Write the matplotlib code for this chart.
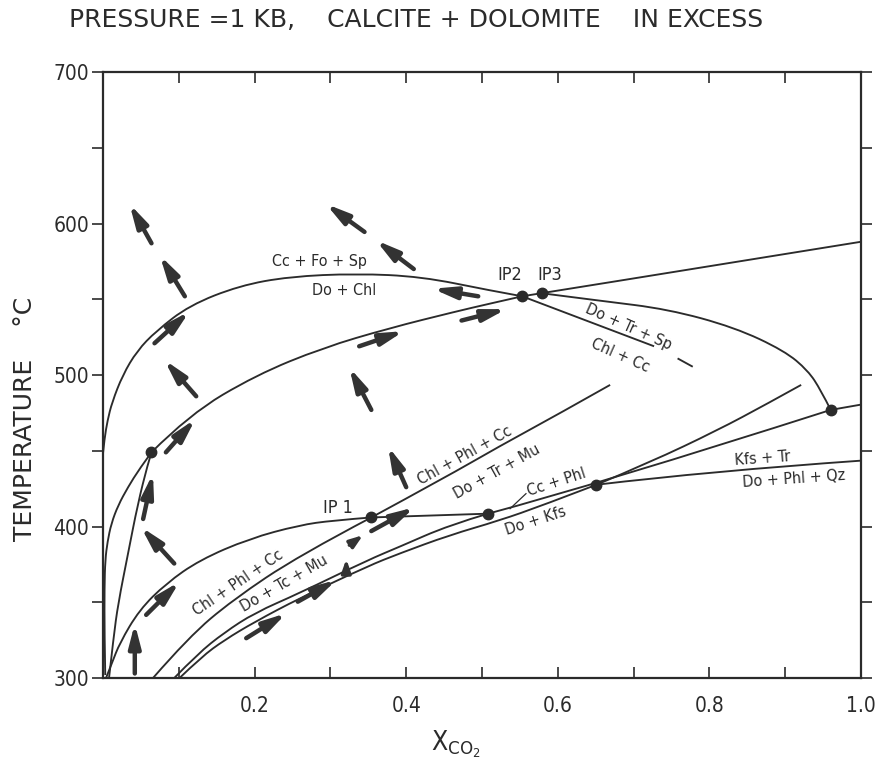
import matplotlib
matplotlib.use('Agg')
import matplotlib.pyplot as plt
from matplotlib.path import Path
from matplotlib.patches import PathPatch
import numpy as np

plt.rcParams['font.family'] = ['DejaVu Sans']
plt.rcParams['font.stretch'] = 'condensed'
plt.rcParams['mathtext.fontset'] = 'dejavusans'

ink = '#2b2b2b'

# ---- reaction curves (X_CO2, T in deg C) ----
# Cc+Fo+Sp = Do+Chl
curveA_x = [0.0, 0.002, 0.006, 0.012, 0.026, 0.045, 0.07, 0.114, 0.18, 0.246, 0.334, 0.42, 0.509, 0.553]
curveA_t = [448, 458, 470, 482, 500, 516, 529, 546, 559, 565, 567, 565, 556, 552]
# Do+Tr+Sp = Chl+Cc (from IP2)
trsp_x = [0.553, 0.727]
trsp_t = [552, 519]
trsp_dash_x = [0.758, 0.778]
trsp_dash_t = [511, 505.5]
# lower big curve: left axis -> invariant point -> IP2 -> IP3 -> right axis
curveB_low_x = [0.003, 0.002, 0.002, 0.003, 0.006, 0.011, 0.02, 0.033, 0.048, 0.064]
curveB_low_t = [302, 330, 360, 378, 390, 402, 414, 426, 438, 449]
curveB_mid_x = [0.064, 0.114, 0.202, 0.29, 0.378, 0.466, 0.509, 0.553]
curveB_mid_t = [449, 474, 500, 518, 531, 542, 547, 552]
curveB_right_x = [0.553, 0.579, 1.0]
curveB_right_t = [552, 554, 588]
# curve from IP3 down to the right-hand point
curveC_x = [0.579, 0.657, 0.745, 0.833, 0.899, 0.93, 0.947, 0.96]
curveC_t = [554, 549, 543.5, 531.5, 516, 503, 490, 477]
stub_x = [0.96, 1.0]
stub_t = [477, 480.5]
# steep curve to the invariant point
steep_x = [0.008, 0.014, 0.02, 0.033, 0.046, 0.059, 0.064]
steep_t = [300, 327, 349, 382, 415, 441, 449]
# upper curve into IP1, then IP1 to the next point
ip1_x = [0.004, 0.012, 0.022, 0.048, 0.0835, 0.1275, 0.193, 0.259, 0.303, 0.354]
ip1_t = [300, 310, 323, 345, 362.5, 377.9, 392, 400.9, 404, 406]
ip1_flat_x = [0.354, 0.508]
ip1_flat_t = [406, 408.5]
# Chl+Phl+Cc = Do+Tc+Mu -> IP1 ; Chl+Phl+Cc = Do+Tr+Mu beyond
tc_x = [0.066, 0.113, 0.171, 0.259, 0.354]
tc_t = [300, 327, 351.5, 381, 406]
tr_x = [0.354, 0.45, 0.523, 0.6, 0.669]
tr_t = [406, 432, 453, 474, 493.5]
# the close pair of curves
pair1_x = [0.094, 0.125, 0.16, 0.2, 0.259, 0.35, 0.391, 0.457, 0.508]
pair1_t = [300, 316, 330, 343, 356, 378, 386.6, 401, 408.5]
pair1_up_x = [0.508, 0.651, 0.96]
pair1_up_t = [408.5, 427.6, 477]
pair2_x = [0.101, 0.13, 0.16, 0.2, 0.259, 0.35, 0.391, 0.457, 0.523, 0.58, 0.651]
pair2_t = [300, 314, 325, 337, 352.6, 374, 382.2, 394.3, 404, 414, 427.6]
pair2_up_x = [0.651, 0.722, 0.81, 0.876, 0.921]
pair2_up_t = [427.6, 442.5, 463.4, 481, 493.5]
# Kfs+Tr = Do+Phl+Qz
kfs_x = [0.651, 0.8, 1.0]
kfs_t = [427.6, 436.5, 443.5]

# invariant points
pts_x = [0.064, 0.354, 0.508, 0.553, 0.579, 0.651, 0.96]
pts_t = [449, 406, 408.5, 552, 554, 427.6, 477]

# arrows: tail -> head
arr_tail = [(0.064, 587), (0.108, 552), (0.068, 521), (0.123, 486), (0.083, 449),
            (0.41, 570), (0.345, 594.5), (0.495, 552), (0.338, 519), (0.473, 536),
            (0.354, 477), (0.400, 426), (0.053, 405), (0.094, 375.6), (0.057, 341.7),
            (0.042, 303), (0.189, 326.3), (0.257, 350.4), (0.354, 397)]
arr_head = [(0.035, 613), (0.075, 579), (0.114, 542), (0.081, 510), (0.122, 471),
            (0.36, 589), (0.294, 613), (0.435, 557), (0.397, 529), (0.532, 543.5),
            (0.325, 505), (0.376, 453), (0.066, 435), (0.05, 399.8), (0.101, 363.6),
            (0.042, 336), (0.242, 342.8), (0.308, 364.7), (0.411, 412.7)]
small_tail = [(0.321, 371), (0.325, 387.7)]
small_head = [(0.321, 378.5), (0.343, 394.3)]


fig = plt.figure(figsize=(8.77, 7.67), dpi=100)
ax = fig.add_axes([0.1174, 0.116, 0.8644, 0.790])

lw = 1.35


def curve(xs, ts):
    # smooth quadratic path through the read points
    pts = list(zip(xs, ts))
    if len(pts) < 3:
        ax.plot(xs, ts, color=ink, lw=lw, solid_capstyle='butt')
        return
    verts = [pts[0]]
    codes = [Path.MOVETO]
    for i in range(1, len(pts) - 1):
        if i == len(pts) - 2:
            end = pts[i + 1]
        else:
            end = ((pts[i][0] + pts[i + 1][0]) / 2, (pts[i][1] + pts[i + 1][1]) / 2)
        verts += [pts[i], end]
        codes += [Path.CURVE3, Path.CURVE3]
    ax.add_patch(PathPatch(Path(verts, codes), fill=False, edgecolor=ink, lw=lw,
                           capstyle='butt'))


for xs, ts in [(curveA_x, curveA_t), (trsp_x, trsp_t), (trsp_dash_x, trsp_dash_t),
               (curveB_low_x, curveB_low_t), (curveB_mid_x, curveB_mid_t),
               (curveB_right_x, curveB_right_t), (curveC_x, curveC_t), (stub_x, stub_t),
               (steep_x, steep_t), (ip1_x, ip1_t), (ip1_flat_x, ip1_flat_t),
               (tc_x, tc_t), (tr_x, tr_t), (pair1_x, pair1_t), (pair1_up_x, pair1_up_t),
               (pair2_x, pair2_t), (pair2_up_x, pair2_up_t), (kfs_x, kfs_t)]:
    curve(xs, ts)

ax.plot(pts_x, pts_t, 'o', color=ink, ms=7.5)

for (x0, t0), (x1, t1) in zip(arr_tail, arr_head):
    ax.annotate('', xy=(x1, t1), xytext=(x0, t0),
                arrowprops=dict(arrowstyle='-|>,head_length=0.85,head_width=0.22',
                                lw=3.2, color='#333333', shrinkA=0, shrinkB=0,
                                mutation_scale=16))
for (x0, t0), (x1, t1) in zip(small_tail, small_head):
    ax.annotate('', xy=(x1, t1), xytext=(x0, t0),
                arrowprops=dict(arrowstyle='-|>,head_length=0.7,head_width=0.25',
                                lw=2.5, color='#333333', shrinkA=0, shrinkB=0,
                                mutation_scale=11))

# reaction labels
fs = 11.5
ax.text(0.285, 575, 'Cc + Fo + Sp', fontsize=fs, ha='center', va='center', color=ink)
ax.text(0.318, 556, 'Do + Chl', fontsize=fs, ha='center', va='center', color=ink)
ax.text(0.537, 566, 'IP2', fontsize=13, ha='center', va='center', color=ink)
ax.text(0.589, 566, 'IP3', fontsize=13, ha='center', va='center', color=ink)
ax.text(0.693, 532, 'Do + Tr + Sp', fontsize=fs, ha='center', va='center', rotation=-24, color=ink)
ax.text(0.682, 513, 'Chl + Cc', fontsize=fs, ha='center', va='center', rotation=-24, color=ink)
ax.text(0.478, 447, 'Chl + Phl + Cc', fontsize=fs, ha='center', va='center', rotation=29, color=ink)
ax.text(0.52, 436, 'Do + Tr + Mu', fontsize=fs, ha='center', va='center', rotation=29, color=ink)
ax.text(0.31, 412.5, 'IP 1', fontsize=13, ha='center', va='center', color=ink)
ax.text(0.178, 363, 'Chl + Phl + Cc', fontsize=fs, ha='center', va='center', rotation=34, color=ink)
ax.text(0.2385, 362, 'Do + Tc + Mu', fontsize=fs, ha='center', va='center', rotation=30, color=ink)
ax.text(0.598, 429, 'Cc + Phl', fontsize=fs, ha='center', va='center', rotation=18, color=ink)
ax.plot([0.558, 0.537], [421.7, 411.8], color=ink, lw=0.9)
ax.text(0.571, 403.5, 'Do + Kfs', fontsize=fs, ha='center', va='center', rotation=18, color=ink)
ax.text(0.870, 444.7, 'Kfs + Tr', fontsize=fs, ha='center', va='center', rotation=4, color=ink)
ax.text(0.912, 431.6, 'Do + Phl + Qz', fontsize=fs, ha='center', va='center', rotation=4, color=ink)

ax.set_xlim(0, 1.0)
ax.set_ylim(300, 700)
ax.set_xticks([0.2, 0.4, 0.6, 0.8, 1.0])
ax.set_xticklabels(['0.2', '0.4', '0.6', '0.8', '1.0'])
ax.set_xticks(np.arange(0.1, 1.0, 0.2), minor=True)
ax.set_yticks([300, 400, 500, 600, 700])
ax.set_yticks([350, 450, 550, 650], minor=True)
ax.tick_params(axis='x', which='both', direction='in', top=True, length=8, width=1.2,
               colors=ink, labelsize=15, pad=13)
ax.tick_params(axis='y', which='both', direction='out', right=True, length=8, width=1.2,
               colors=ink, labelsize=15, pad=2)
for s in ax.spines.values():
    s.set_linewidth(1.6)
    s.set_color(ink)

fig.text(0.474, 0.974, 'PRESSURE =1 KB,    CALCITE + DOLOMITE    IN EXCESS',
         fontsize=18, fontstretch='normal', ha='center', va='center', color=ink)
fig.text(0.029, 0.454, 'TEMPERATURE    \u00b0C', fontsize=18, fontstretch='normal',
         rotation=90, ha='center', va='center', color=ink)
fig.text(0.52, 0.03, r'X$_{\mathregular{CO_2}}$', fontsize=19, ha='center',
         va='center', color=ink)

fig.savefig('out.png', dpi=100, facecolor='white')
